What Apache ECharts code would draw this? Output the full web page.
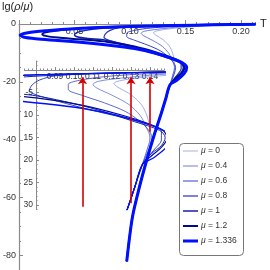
<!DOCTYPE html>
<html><head><meta charset="utf-8">
<script src="https://cdn.jsdelivr.net/npm/echarts@6/dist/echarts.min.js"></script>
<style>html,body{margin:0;padding:0;background:#fff}#c{width:270px;height:270px}</style>
</head><body><div id="c"></div>
<script>
const FONT = 'Liberation Sans';
const muLabels = ['0', '0.4', '0.6', '0.8', '1', '1.2', '1.336'];
const lineColors = ['#6a78e0', '#4b5bd6', '#3343c8', '#2232b8', '#1020a8', '#000c8c', '#0010ff'];
const lineWidths = [0.6, 0.8, 1.0, 1.2, 1.5, 2, 3];
const insetWidths = [0.6, 0.7, 0.8, 0.9, 1.0, 1.1, 1.3];

// [T, lg(rho/mu)]
const curveMu0 = [[0.213,-0.05],[0.18,-0.4],[0.155,-1.0],[0.135,-1.7],[0.124,-2.4],[0.121,-3.0],[0.123,-3.8],[0.13,-5.5],[0.136,-8],[0.139,-11],[0.14,-14],[0.14,-16],[0.139,-17]];
const curveMu04 = [[0.213,-0.05],[0.175,-0.4],[0.145,-1.0],[0.125,-1.8],[0.113,-2.5],[0.110,-3.2],[0.112,-4.0],[0.12,-5.6],[0.129,-7.7],[0.135,-10.2],[0.138,-12.7],[0.14,-15],[0.139,-17]];
const curveMu06 = [[0.213,-0.05],[0.17,-0.4],[0.14,-0.8],[0.118,-1.4],[0.104,-2.2],[0.097,-3.2],[0.097,-4.3],[0.104,-5.6],[0.116,-7.3],[0.127,-9.2],[0.134,-11.2],[0.139,-13.2],[0.141,-15],[0.14,-17]];
const curveMu08 = [[0.213,-0.05],[0.17,-0.3],[0.13,-0.55],[0.105,-0.85],[0.09,-1.3],[0.082,-2.2],[0.078,-3.3],[0.0765,-4.6],[0.08,-5.5],[0.092,-7.0],[0.109,-8.9],[0.127,-10.7],[0.14,-12.2],[0.146,-13.6],[0.146,-15.5],[0.142,-17.8]];
const curveMu1 = [[0.213,-0.05],[0.17,-0.3],[0.13,-0.6],[0.1,-1.0],[0.075,-1.5],[0.06,-2.2],[0.052,-3.0],[0.05,-3.8],[0.053,-4.5],[0.062,-5.0],[0.078,-5.6],[0.095,-7.0],[0.112,-8.8],[0.132,-11.5],[0.145,-13.4],[0.148,-15],[0.146,-16.8],[0.141,-18.5]];
const curveMu12 = [[0.213,-0.05],[0.17,-0.3],[0.12,-0.65],[0.08,-1.05],[0.05,-1.6],[0.033,-2.3],[0.024,-2.9],[0.021,-3.5],[0.024,-4.1],[0.035,-4.7],[0.055,-5.3],[0.08,-6.2],[0.104,-7.8],[0.125,-10.0],[0.139,-11.9],[0.147,-13.5],[0.149,-15.2],[0.146,-17.2],[0.141,-19]];
const curveMu1336 = [[0.213,-0.05],[0.19,-0.2],[0.16,-0.4],[0.12,-0.7],[0.08,-1.1],[0.05,-1.6],[0.025,-2.3],[0.008,-3.0],[0.001,-3.8],[0.004,-4.5],[0.015,-5.1],[0.035,-5.7],[0.06,-6.5],[0.085,-7.5],[0.104,-8.5],[0.122,-10.0],[0.137,-11.8],[0.147,-13.4],[0.151,-15],[0.149,-17],[0.142,-19.5]];
// common low-density tail shared by all curves
const tailCurve = [[0.136,-21],[0.132,-26],[0.128,-31],[0.122,-38],[0.115,-47],[0.108,-57],[0.102,-67],[0.097,-82]];

const curves = [curveMu0, curveMu04, curveMu06, curveMu08, curveMu1, curveMu12, curveMu1336];

// main axis ticks
const mainXTicks = [0.05, 0.10, 0.15, 0.20];
const mainYTicks = [-80, -60, -40, -20, 0];
// inset axis ticks
const insetXTicks = [0.09, 0.10, 0.11, 0.12, 0.13, 0.14];
const insetYTicks = [-30, -25, -20, -15, -10, -5];
const insetYLabels = ['30', '25', '20', '15', '10', '-5'];

// red arrows in inset coordinates
const arrowT = [0.1045, 0.13, 0.14];
const arrowFrom = [-30.4, -29.6, -13.7];
const arrowTo = [-1.6, -1.6, -1.6];

const axisGray = '#8a8a8a';
const labelColor = '#333';
const T_MIN_IN = 0.074, T_MAX_IN = 0.1475, V_MIN_IN = -31, V_MAX_IN = 2;

const series = [];
curves.forEach((c, i) => {
  series.push({
    type: 'line', xAxisIndex: 0, yAxisIndex: 0, data: c.concat(tailCurve),
    symbol: 'none', smooth: 0.3, lineStyle: {color: lineColors[i], width: lineWidths[i]},
    animation: false, silent: true, z: 3 + i
  });
});
curves.forEach((c, i) => {
  series.push({
    type: 'line', xAxisIndex: 2, yAxisIndex: 2, data: c.concat(tailCurve),
    symbol: 'none', smooth: 0.3, lineStyle: {color: lineColors[i], width: insetWidths[i]},
    animation: false, silent: true, z: 3 + i
  });
});
series.push({
  type: 'lines', coordinateSystem: 'cartesian2d', xAxisIndex: 2, yAxisIndex: 2,
  data: arrowT.map((t, i) => ({coords: [[t, arrowFrom[i]], [t, arrowTo[i]]]})),
  symbol: ['none', 'arrow'], symbolSize: 7,
  lineStyle: {color: '#d40000', width: 1.6, opacity: 1}, animation: false, silent: true, z: 20
});

const legendItems = [];
muLabels.forEach((m, i) => {
  const y = 151 + i * 15;
  legendItems.push({type: 'line', shape: {x1: 183, y1: y, x2: 198, y2: y}, style: {stroke: lineColors[i], lineWidth: lineWidths[i]}, z: 101});
  legendItems.push({type: 'text', x: 201, y: y, style: {text: '{i|μ} = ' + m, fontSize: 8.5, fontFamily: FONT, fill: '#333', verticalAlign: 'middle', rich: {i: {fontStyle: 'italic', fontSize: 8.5, fontFamily: FONT, fill: '#333'}}}, z: 101});
});

const hiddenAxis = (g, mn, mx) => ({gridIndex: g, type: 'value', min: mn, max: mx, show: false});

const option = {
  backgroundColor: '#fff',
  animation: false,
  grid: [
    {left: 19, top: 24, width: 236, height: 246},        // 0 main
    {left: 24.6, top: 61, width: 139.65, height: 148.5}, // 1 inset plot area
    {left: 36, top: 61, width: 100, height: 148.5},      // 2 inset y axis
    {left: 24.6, top: 61, width: 139.65, height: 9}      // 3 inset x axis (bottom at v = 0)
  ],
  xAxis: [
    {gridIndex: 0, type: 'value', min: 0, max: 0.2125, position: 'top',
     axisLine: {onZero: false, lineStyle: {color: axisGray, width: 1}},
     axisTick: {customValues: [0, 0.05, 0.1, 0.15, 0.2], length: 4, lineStyle: {color: axisGray}},
     axisLabel: {inside: true, customValues: mainXTicks, formatter: v => v.toFixed(2), fontSize: 9, fontFamily: FONT, color: labelColor, margin: 3},
     splitLine: {show: false}, name: 'T', nameLocation: 'end', nameGap: 5,
     nameTextStyle: {fontSize: 11, fontFamily: FONT, color: '#222', verticalAlign: 'middle'}},
    {gridIndex: 0, type: 'value', min: 0, max: 0.2125, interval: 0.01, position: 'top',
     axisLine: {show: false, onZero: false}, axisTick: {length: 2, lineStyle: {color: axisGray}},
     axisLabel: {show: false}, splitLine: {show: false}},
    hiddenAxis(1, T_MIN_IN, T_MAX_IN),
    {gridIndex: 3, type: 'value', min: T_MIN_IN, max: T_MAX_IN, position: 'bottom',
     axisLine: {onZero: false, lineStyle: {color: axisGray, width: 1}},
     axisTick: {inside: true, customValues: [0.08, 0.09, 0.1, 0.11, 0.12, 0.13, 0.14], length: 3, lineStyle: {color: axisGray}},
     axisLabel: {customValues: insetXTicks, formatter: v => v.toFixed(2), fontSize: 8.5, fontFamily: FONT, color: labelColor, margin: 2},
     splitLine: {show: false}},
    {gridIndex: 3, type: 'value', min: T_MIN_IN, max: T_MAX_IN, interval: 0.002, position: 'bottom',
     axisLine: {show: false, onZero: false}, axisTick: {inside: true, length: 1.5, lineStyle: {color: axisGray}},
     axisLabel: {show: false}, splitLine: {show: false}},
    hiddenAxis(2, 0, 1)
  ],
  yAxis: [
    {gridIndex: 0, type: 'value', min: -85, max: 0, position: 'left',
     axisLine: {show: true, onZero: false, lineStyle: {color: axisGray, width: 1.2}},
     axisTick: {show: true, inside: true, customValues: mainYTicks, length: 4, lineStyle: {color: axisGray}},
     axisLabel: {customValues: mainYTicks, fontSize: 9, fontFamily: FONT, color: labelColor, margin: 3},
     splitLine: {show: false}},
    {gridIndex: 0, type: 'value', min: -85, max: 0, interval: 5, position: 'left',
     axisLine: {show: false, onZero: false}, axisTick: {show: true, inside: true, length: 2, lineStyle: {color: axisGray}},
     axisLabel: {show: false}, splitLine: {show: false}},
    hiddenAxis(1, V_MIN_IN, V_MAX_IN),
    {gridIndex: 2, type: 'value', min: V_MIN_IN, max: V_MAX_IN, position: 'left',
     axisLine: {show: true, onZero: false, lineStyle: {color: axisGray, width: 1}},
     axisTick: {show: true, inside: true, customValues: insetYTicks.concat([0]), length: 3, lineStyle: {color: axisGray}},
     axisLabel: {customValues: insetYTicks, formatter: v => insetYLabels[insetYTicks.indexOf(v)], fontSize: 8.5, fontFamily: FONT, color: labelColor, margin: 3},
     splitLine: {show: false}},
    {gridIndex: 2, type: 'value', min: V_MIN_IN, max: V_MAX_IN, interval: 1, position: 'left',
     axisLine: {show: false, onZero: false}, axisTick: {show: true, inside: true, length: 1.5, lineStyle: {color: axisGray}},
     axisLabel: {show: false}, splitLine: {show: false}},
    hiddenAxis(3, 0, 2)
  ],
  graphic: [
    {type: 'text', x: 2, y: 7, style: {text: 'lg({i|ρ}/{i|μ})', fontSize: 11, fontFamily: FONT, fill: '#222', verticalAlign: 'middle', rich: {i: {fontStyle: 'italic', fontSize: 11, fontFamily: FONT, fill: '#222'}}}, z: 100},
    {type: 'rect', shape: {x: 179.5, y: 143.5, width: 64, height: 112, r: 4}, style: {fill: '#fff', stroke: '#777', lineWidth: 1}, z: 100}
  ].concat(legendItems),
  series: series
};
const chart = echarts.init(document.getElementById('c'), null, {renderer: 'canvas'});
chart.setOption(option);
</script></body></html>
